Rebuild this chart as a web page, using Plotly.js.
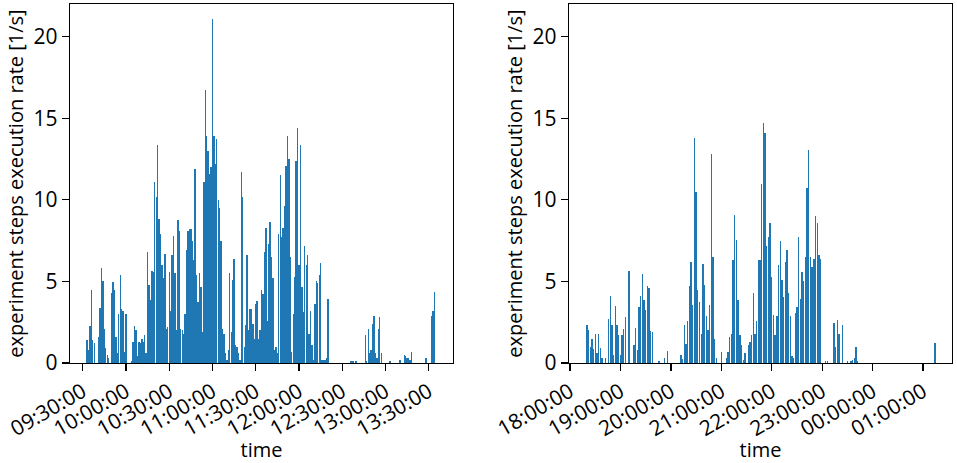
<!DOCTYPE html>
<html>
<head>
<meta charset="utf-8">
<script src="https://cdn.plot.ly/plotly-3.0.1.min.js"></script>
<style>html,body{margin:0;padding:0;background:#fff;}#chart{width:957px;height:463px;}</style>
</head>
<body>
<div id="chart"></div>
<script>
// Left panel: one value per minute, starting 09:33
const leftStart = '2020-01-01 09:33:00';
const leftStepMin = 1;
const leftRates = [
 1.4,0.8,2.25,4.5,1.4,1.2,0,0,1.6,3.35,
 5.8,5.0,2.1,0.9,0.5,0.3,0,4.3,4.95,4.45,
 1.6,0.6,3.0,5.4,3.3,3.2,0.7,3.0,0,0,
 0,0.1,1.3,2.25,2.0,0.4,1.3,1.2,1.5,1.3,
 1.7,0.6,6.8,4.8,3.85,5.65,5.6,11.1,10.2,13.35,
 8.85,7.9,6.0,5.2,6.7,2.1,2.2,5.6,3.2,6.6,
 7.8,5.5,2.0,8.75,8.1,2.1,2.0,1.8,3.0,6.9,
 8.1,8.2,8.2,7.5,6.3,11.9,5.4,3.75,5.5,4.65,
 1.9,11.1,16.7,13.9,13.0,11.6,12.0,21.1,13.9,12.2,
 13.7,10.0,9.5,7.5,2.1,1.8,0.6,0.2,0.8,5.5,
 1.9,5.1,6.4,1.1,1.0,0.6,0.2,11.7,10.2,1.0,
 2.3,6.6,2.0,3.3,3.3,2.4,1.5,3.6,3.8,1.5,
 2.0,4.5,4.25,6.8,8.25,2.6,7.3,8.65,6.5,5.2,
 0.8,1.0,0.6,7.9,11.5,7.7,8.25,9.6,12.1,13.9,
 12.5,6.5,0.7,3.0,5.3,12.4,14.4,6.0,13.35,4.65,
 3.1,7.2,6.0,6.6,1.8,3.2,1.1,0.2,3.6,5.0,
 4.9,5.4,6.1,0.2,0.2,0.2,0.3,3.95,0,0,
 0,0,0,0,0,0,0,0,0,0,
 0,0,0,0.1,0.1,0.1,0.1,0.1,0,0,
 0,0,0,1.7,0.1,2.1,0.6,0.8,2.4,2.9,
 0.6,0.3,2.1,2.8,0.6,0,0,0,0,0,
 0.1,0,0,0,0,0,0,0.2,0,0,
 0.5,0.4,0.3,0.3,0.2,0.7,0,0,0,0,
 0,0,0,0,0,0.3,0,0,0,2.9,
 3.2,4.35
];
const leftTicks = ['09:30:00','10:00:00','10:30:00','11:00:00','11:30:00','12:00:00','12:30:00','13:00:00','13:30:00'];

// Right panel: one value per two minutes, starting 18:20
const rightStart = '2020-01-01 18:20:00';
const rightStepMin = 2;
const rightRates = [
 2.3,2.05,1.0,1.5,0.85,1.8,0.6,1.8,0.9,0.3,
 0,0.3,0,2.7,4.1,2.35,0.5,3.5,2.3,1.7,
 0.5,1.7,2.1,2.8,0,5.65,0,0,1.1,2.15,
 0.8,3.45,4.1,5.45,3.85,3.25,4.7,4.6,1.95,1.9,
 0,0,0,0.1,0,0,0.3,0,0.75,0,
 0,0,0,0,0,0,0.5,0.25,2.3,1.15,
 2.55,4.7,6.2,3.55,13.8,10.5,4.5,3.75,1.8,6.05,
 4.8,2.85,2.0,3.55,12.8,6.5,1.45,0.3,0,0,
 0.65,0,0,0.3,0.7,1.6,1.8,6.3,9.1,7.55,
 3.85,1.7,1.1,0.2,0.6,0,1.1,1.3,1.7,4.3,
 1.8,2.55,6.3,6.3,11.0,14.7,14.1,7.15,7.75,8.6,
 5.3,2.95,1.7,2.85,6.0,7.45,5.1,4.05,6.2,6.95,
 4.3,2.85,0.4,0.3,3.05,3.45,7.75,3.95,5.6,5.0,
 6.5,10.7,13.05,6.5,5.9,6.4,9.0,8.55,6.6,6.4,
 0,0,0.1,0.1,0,0,0,2.45,1.0,2.65,
 1.8,0,2.35,0,0,0.1,0,0.1,0.2,0.3,
 1.0,0.1,0,0,0,0,0,0,0,0,
 0,0,0,0,0,0,0,0,0,0,
 0,0,0,0,0,0,0,0,0,0,
 0,0,0,0,0,0,0,0,0,0,
 0,0,0,0,0,0,0,1.2
];
const rightTicks = ['18:00:00','19:00:00','20:00:00','21:00:00','22:00:00','23:00:00','00:00:00','01:00:00'];

const yTicks = [0,5,10,15,20];
const yLabel = 'experiment steps execution rate [1/s]';
const xLabel = 'time';

function times(start, stepMin, n){
  const t0 = new Date(start.replace(' ','T')+'Z').getTime();
  const out = [];
  for(let i=0;i<n;i++){
    const d = new Date(t0 + i*stepMin*60000);
    out.push(d.toISOString().replace('T',' ').slice(0,19));
  }
  return out;
}
function tickDates(day, labels, nextDayBefore){
  return labels.map(l=>{
    const h = parseInt(l.slice(0,2),10);
    const d = (nextDayBefore!==undefined && h < nextDayBefore) ? '2020-01-02' : day;
    return d+' '+l;
  });
}

const blue = '#1f77b4';
const traces = [
  {type:'bar', x: times(leftStart,leftStepMin,leftRates.length), y: leftRates,
   width: leftStepMin*60000*0.95, marker:{color:blue, line:{width:0}}, xaxis:'x', yaxis:'y', hoverinfo:'x+y'},
  {type:'bar', x: times(rightStart,rightStepMin,rightRates.length), y: rightRates,
   width: rightStepMin*60000*0.8, marker:{color:blue, line:{width:0}}, xaxis:'x2', yaxis:'y2', hoverinfo:'x+y'}
];

const fam = '"Open Sans", Lato, sans-serif';
const font = {family:fam, size:21, color:'#000'};
const titleFont = {family:fam, size:20, color:'#000'};
const axCommon = {
  showline:true, mirror:true, linecolor:'#000', linewidth:1.4,
  ticks:'outside', ticklen:7, tickwidth:1.3, tickcolor:'#000',
  showgrid:false, zeroline:false, tickfont:{family:fam, size:21, color:'#000'}
};
const W=957, H=463;
const layout = {
  width:W, height:H, margin:{l:0,r:0,t:0,b:0}, paper_bgcolor:'#fff', plot_bgcolor:'#fff',
  showlegend:false, font:font, bargap:0,
  xaxis: Object.assign({}, axCommon, {
    domain:[70/W, 453/W], type:'date', anchor:'y',
    range:['2020-01-01 09:21:12','2020-01-01 13:46:48'],
    tickmode:'array', tickvals: tickDates('2020-01-01', leftTicks), ticktext: leftTicks,
    tickangle:-30, title:{text:xLabel, font:titleFont, standoff:6}
  }),
  yaxis: Object.assign({}, axCommon, {
    domain:[(H-363)/H, (H-4)/H], anchor:'x', range:[0,22],
    tickmode:'array', tickvals:yTicks,
    title:{text:yLabel, font:titleFont, standoff:4}
  }),
  xaxis2: Object.assign({}, axCommon, {
    domain:[569/W, 952/W], type:'date', anchor:'y2',
    range:['2020-01-01 17:58:48','2020-01-02 01:34:20'],
    tickmode:'array', tickvals: tickDates('2020-01-01', rightTicks, 12), ticktext: rightTicks,
    tickangle:-30, title:{text:xLabel, font:titleFont, standoff:6}
  }),
  yaxis2: Object.assign({}, axCommon, {
    domain:[(H-363)/H, (H-4)/H], anchor:'x2', range:[0,22],
    tickmode:'array', tickvals:yTicks,
    title:{text:yLabel, font:titleFont, standoff:4}
  })
};
Plotly.newPlot('chart', traces, layout, {staticPlot:true, displayModeBar:false});
</script>
</body>
</html>
